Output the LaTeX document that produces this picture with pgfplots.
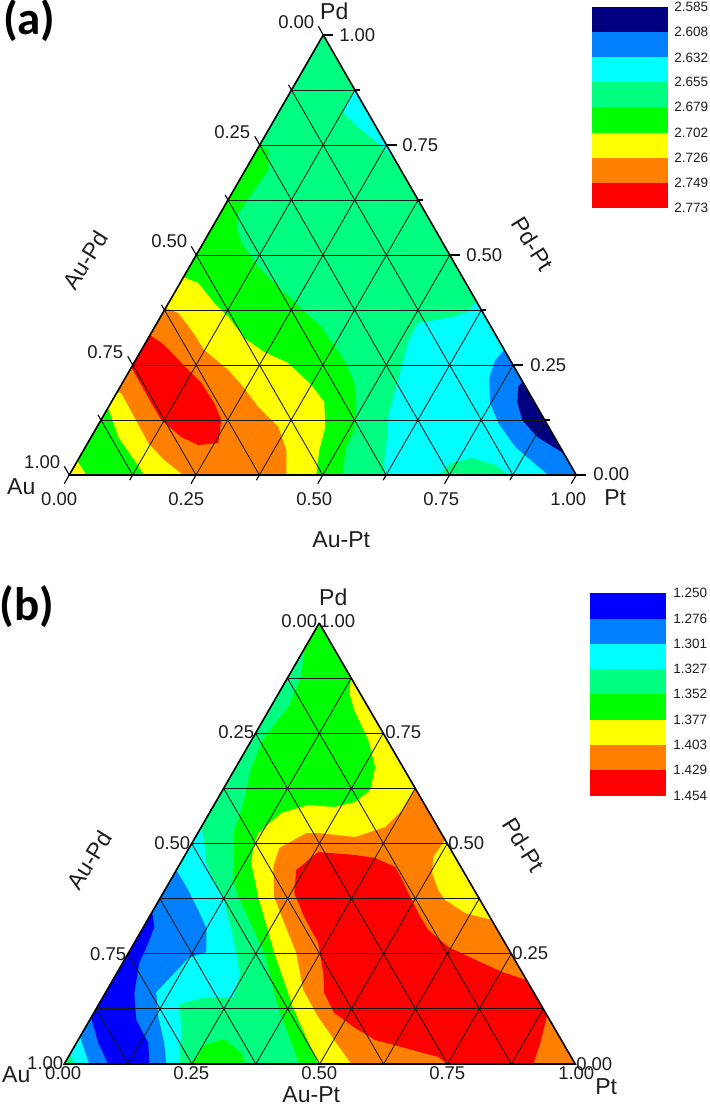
\documentclass[border=0pt]{standalone}
\usepackage{pgfplots}
\pgfplotsset{compat=1.18}
\usepackage{fontspec}
\setmainfont{Liberation Sans}
\newfontfamily\carlito{Carlito}
\definecolor{cNavy}{HTML}{000080}
\definecolor{cBlue}{HTML}{0000FF}
\definecolor{cAzure}{HTML}{0080FF}
\definecolor{cCyan}{HTML}{00FFFF}
\definecolor{cSpring}{HTML}{00FF80}
\definecolor{cGreen}{HTML}{00FF00}
\definecolor{cYellow}{HTML}{FFFF00}
\definecolor{cOrange}{HTML}{FF8000}
\definecolor{cRed}{HTML}{FF0000}
\definecolor{txt}{HTML}{1E1E1E}
\newcommand{\poly}[2]{\addplot[draw=none,fill=#1,forget plot] coordinates {#2};}
\newcommand{\gl}[4]{\addplot[black!90,line width=0.85pt,forget plot] coordinates {(#1,#2)(#3,#4)};}
\newcommand{\tk}[4]{\addplot[black,line width=1.1pt,forget plot] coordinates {(#1,#2)(#3,#4)};}
\newcommand{\lab}[3]{\node[txt,inner sep=0pt,anchor=center,font=\fontsize{18.5}{20}\selectfont] at (axis cs:#1,#2) {#3};}
\newcommand{\nam}[4][0]{\node[txt,inner sep=0pt,anchor=center,rotate=#1,font=\fontsize{23}{24}\selectfont] at (axis cs:#2,#3) {#4};}
\begin{document}
\begin{tikzpicture}
\begin{axis}[scale only axis,width=708pt,height=1108pt,xmin=0,xmax=708,ymin=0,ymax=1108,y dir=reverse,hide axis,clip=false]
\poly{white}{(0,0)(708,0)(708,1108)(0,1108)}
% ---------- panel a
\poly{cSpring}{(322,35)(68,475)(575,475)}
\poly{cCyan}{(354,90)(343,107)(343,114)(354,125)(368,136)(380,146)(394,161)}
\poly{cGreen}{(258,145)(267,150)(267,170)(253,190)(237,213)(235,227)(240,243)(257,267)(272,282)(293,302)(320,327)(343,360)(353,383)(355,408)(353,430)(345,447)(341,475)(68,475)}
\poly{cYellow}{(182,277)(197,283)(213,303)(227,317)(243,338)(263,352)(287,363)(310,385)(323,402)(324,427)(318,450)(315,475)(143,475)(133,460)(117,437)(107,408)}
\poly{cYellow}{(68,475)(76,461)(85,475)}
\poly{cOrange}{(164,308)(177,313)(190,330)(203,350)(227,370)(242,387)(257,407)(277,427)(285,450)(285,475)(182,475)(163,460)(147,443)(133,417)(120,393)(116,392)}
\poly{cRed}{(149,335)(163,345)(187,370)(200,383)(213,403)(220,420)(217,443)(197,445)(180,437)(160,420)(150,403)(130,367)}
\poly{cCyan}{(475,302)(466,312)(451,317)(417,323)(409,337)(404,353)(397,380)(387,417)(386,437)(383,463)(384,475)(575,475)}
\poly{cSpring}{(437,475)(449,463)(471,458)(494,465)(507,475)}
\poly{cAzure}{(503,350)(494,360)(488,377)(489,403)(497,423)(514,447)(547,475)(575,475)}
\poly{cNavy}{(521,382)(517,387)(516,402)(521,420)(536,437)(562,453)}
% grid a
\gl{99.75}{420}{543.375}{420}\gl{131.5}{365}{511.75}{365}\gl{163.25}{310}{480.125}{310}\gl{195}{255}{448.5}{255}\gl{226.75}{200}{416.875}{200}\gl{258.5}{145}{385.25}{145}\gl{290.25}{90}{353.625}{90}
\gl{131.375}{475}{99.75}{420}\gl{194.75}{475}{131.5}{365}\gl{258.125}{475}{163.25}{310}\gl{321.5}{475}{195}{255}\gl{384.875}{475}{226.75}{200}\gl{448.25}{475}{258.5}{145}\gl{511.625}{475}{290.25}{90}
\gl{131.375}{475}{353.625}{90}\gl{194.75}{475}{385.25}{145}\gl{258.125}{475}{416.875}{200}\gl{321.5}{475}{448.5}{255}\gl{384.875}{475}{480.125}{310}\gl{448.25}{475}{511.75}{365}\gl{511.625}{475}{543.375}{420}
\addplot[black,line width=1.6pt,forget plot] coordinates {(322,35)(68,475)(575,475)(322,35)};
% ticks a
\tk{322}{35}{317}{26}\tk{258.5}{145}{253.5}{136.3}\tk{195}{255}{190}{246.3}\tk{131.5}{365}{126.5}{356.3}\tk{68}{475}{63}{466.3}
\tk{290.25}{90}{287.25}{84.8}\tk{226.75}{200}{223.75}{194.8}\tk{163.25}{310}{160.25}{304.8}\tk{99.75}{420}{96.75}{414.8}
\tk{68}{475}{63}{483.7}\tk{194.75}{475}{189.75}{483.7}\tk{321.5}{475}{316.5}{483.7}\tk{448.25}{475}{443.25}{483.7}\tk{575}{475}{570}{483.7}
\tk{131.375}{475}{128.375}{480.2}\tk{258.125}{475}{255.125}{480.2}\tk{384.875}{475}{381.875}{480.2}\tk{511.625}{475}{508.625}{480.2}
\tk{322}{35}{332}{35}\tk{385.25}{145}{395.25}{145}\tk{448.5}{255}{458.5}{255}\tk{511.75}{365}{521.75}{365}\tk{575}{475}{585}{475}
\tk{353.625}{90}{358.625}{90}\tk{416.875}{200}{421.875}{200}\tk{480.125}{310}{485.125}{310}\tk{543.375}{420}{548.375}{420}
% labels a
\lab{295}{22}{0.00}\lab{356}{35}{1.00}\lab{231}{132}{0.25}\lab{168}{241}{0.50}\lab{104}{352}{0.75}\lab{41}{462}{1.00}
\lab{58}{499}{0.00}\lab{185}{499}{0.25}\lab{313}{499}{0.50}\lab{440}{499}{0.75}\lab{567}{499}{1.00}
\lab{610}{474}{0.00}\lab{547}{365}{0.25}\lab{483}{255}{0.50}\lab{419}{145}{0.75}
\nam{333}{11}{Pd}\nam{20}{487}{Au}\nam{614}{498}{Pt}\nam{340}{540}{Au-Pt}\nam[58]{84}{260}{Au-Pd}\nam[-58]{531}{244}{Pd-Pt}
\node[black,inner sep=0pt,font=\carlito\bfseries\fontsize{47}{50}\selectfont] at (axis cs:28,21) {(a)};
% colourbar a
\poly{cNavy}{(591,7)(667,7)(667,32)(591,32)}
\poly{cAzure}{(591,32)(667,32)(667,57.5)(591,57.5)}
\poly{cCyan}{(591,57.5)(667,57.5)(667,82)(591,82)}
\poly{cSpring}{(591,82)(667,82)(667,107)(591,107)}
\poly{cGreen}{(591,107)(667,107)(667,133)(591,133)}
\poly{cYellow}{(591,133)(667,133)(667,158)(591,158)}
\poly{cOrange}{(591,158)(667,158)(667,183)(591,183)}
\poly{cRed}{(591,183)(667,183)(667,208)(591,208)}
\begin{scope}[every node/.style={txt,inner sep=0pt,anchor=west,font=\fontsize{13.5}{15}\selectfont}]
\node at (axis cs:673,7) {2.585};\node at (axis cs:673,32) {2.608};\node at (axis cs:673,57.5) {2.632};\node at (axis cs:673,82) {2.655};\node at (axis cs:673,107) {2.679};\node at (axis cs:673,133) {2.702};\node at (axis cs:673,158) {2.726};\node at (axis cs:673,183) {2.749};\node at (axis cs:673,208) {2.773};
\end{scope}
% ---------- panel b
\poly{cGreen}{(318,623)(63,1064)(574,1064)}
\poly{cSpring}{(303,649)(300,677)(287,707)(263,737)(250,767)(242,803)(233,830)(232,880)(237,897)(263,953)(277,1008)(298,1064)(63,1064)}
\poly{cGreen}{(190,1064)(203,1045)(223,1039)(240,1053)(245,1064)}
\poly{cCyan}{(200,827)(203,843)(205,863)(213,883)(222,898)(230,930)(235,953)(238,973)(237,980)(232,997)(200,998)(178,1004)(180,1030)(178,1064)(63,1064)}
\poly{cSpring}{(63,1064)(69,1054)(73,1064)}
\poly{cAzure}{(175,870)(187,890)(197,910)(205,928)(205,952)(187,958)(173,973)(155,992)(157,1017)(163,1043)(165,1064)(88,1064)(79,1037)}
\poly{cBlue}{(151,912)(153,927)(147,943)(138,963)(133,993)(135,1020)(147,1043)(148,1064)(107,1064)(97,1043)(90,1018)}
\poly{cYellow}{(350,677)(348,693)(353,710)(367,740)(374,767)(369,790)(354,802)(333,807)(307,805)(280,813)(257,833)(252,847)(250,863)(257,897)(273,953)(292,1008)(317,1064)(574,1064)}
\poly{cOrange}{(414,788)(401,810)(384,827)(354,837)(317,833)(305,833)(278,848)(272,867)(273,897)(283,923)(295,953)(302,990)(317,1017)(333,1040)(350,1064)(574,1064)}
\poly{cYellow}{(444,840)(432,857)(431,873)(437,890)(444,900)(464,913)(491,920)}
\poly{cRed}{(317,852)(295,870)(293,893)(303,917)(317,943)(322,973)(323,993)(333,1013)(354,1028)(374,1040)(404,1048)(437,1057)(446,1064)(532,1064)(539,1043)(546,1015)(525,980)(501,972)(481,963)(447,947)(427,930)(419,917)(409,897)(401,880)(394,867)(374,858)(354,855)}
% grid b
\gl{94.875}{1008.875}{542}{1008.875}\gl{126.75}{953.75}{510}{953.75}\gl{158.625}{898.625}{478}{898.625}\gl{190.5}{843.5}{446}{843.5}\gl{222.375}{788.375}{414}{788.375}\gl{254.25}{733.25}{382}{733.25}\gl{286.125}{678.125}{350}{678.125}
\gl{126.875}{1064}{94.875}{1008.875}\gl{190.75}{1064}{126.75}{953.75}\gl{254.625}{1064}{158.625}{898.625}\gl{318.5}{1064}{190.5}{843.5}\gl{382.375}{1064}{222.375}{788.375}\gl{446.25}{1064}{254.25}{733.25}\gl{510.125}{1064}{286.125}{678.125}
\gl{126.875}{1064}{350}{678.125}\gl{190.75}{1064}{382}{733.25}\gl{254.625}{1064}{414}{788.375}\gl{318.5}{1064}{446}{843.5}\gl{382.375}{1064}{478}{898.625}\gl{446.25}{1064}{510}{953.75}\gl{510.125}{1064}{542}{1008.875}
\addplot[black,line width=1.6pt,forget plot] coordinates {(318,623)(63,1064)(574,1064)(318,623)};
% labels b
\lab{298}{621}{0.00}\lab{336}{621}{1.00}\lab{235}{732}{0.25}\lab{171}{843}{0.50}\lab{107}{954}{0.75}\lab{44}{1063}{1.00}
\lab{62}{1073}{0.00}\lab{190}{1073}{0.25}\lab{318}{1073}{0.50}\lab{446}{1073}{0.75}\lab{575}{1073}{1.00}
\lab{593}{1064}{0.00}\lab{529}{953}{0.25}\lab{465}{843}{0.50}\lab{402}{732}{0.75}
\nam{332}{597}{Pd}\nam{15}{1075}{Au}\nam{605}{1087}{Pt}\nam{310}{1095}{Au-Pt}\nam[58]{88}{860}{Au-Pd}\nam[-58]{522}{845}{Pd-Pt}
\node[black,inner sep=0pt,font=\carlito\bfseries\fontsize{47}{50}\selectfont] at (axis cs:26,607) {(b)};
% colourbar b
\poly{cBlue}{(589,593)(665,593)(665,618.7)(589,618.7)}
\poly{cAzure}{(589,618.7)(665,618.7)(665,643.7)(589,643.7)}
\poly{cCyan}{(589,643.7)(665,643.7)(665,669)(589,669)}
\poly{cSpring}{(589,669)(665,669)(665,694)(589,694)}
\poly{cGreen}{(589,694)(665,694)(665,720)(589,720)}
\poly{cYellow}{(589,720)(665,720)(665,745)(589,745)}
\poly{cOrange}{(589,745)(665,745)(665,770)(589,770)}
\poly{cRed}{(589,770)(665,770)(665,796)(589,796)}
\begin{scope}[every node/.style={txt,inner sep=0pt,anchor=west,font=\fontsize{13.5}{15}\selectfont}]
\node at (axis cs:672,593) {1.250};\node at (axis cs:672,618.7) {1.276};\node at (axis cs:672,643.7) {1.301};\node at (axis cs:672,669) {1.327};\node at (axis cs:672,694) {1.352};\node at (axis cs:672,720) {1.377};\node at (axis cs:672,745) {1.403};\node at (axis cs:672,770) {1.429};\node at (axis cs:672,796) {1.454};
\end{scope}
\end{axis}
\end{tikzpicture}
\end{document}
